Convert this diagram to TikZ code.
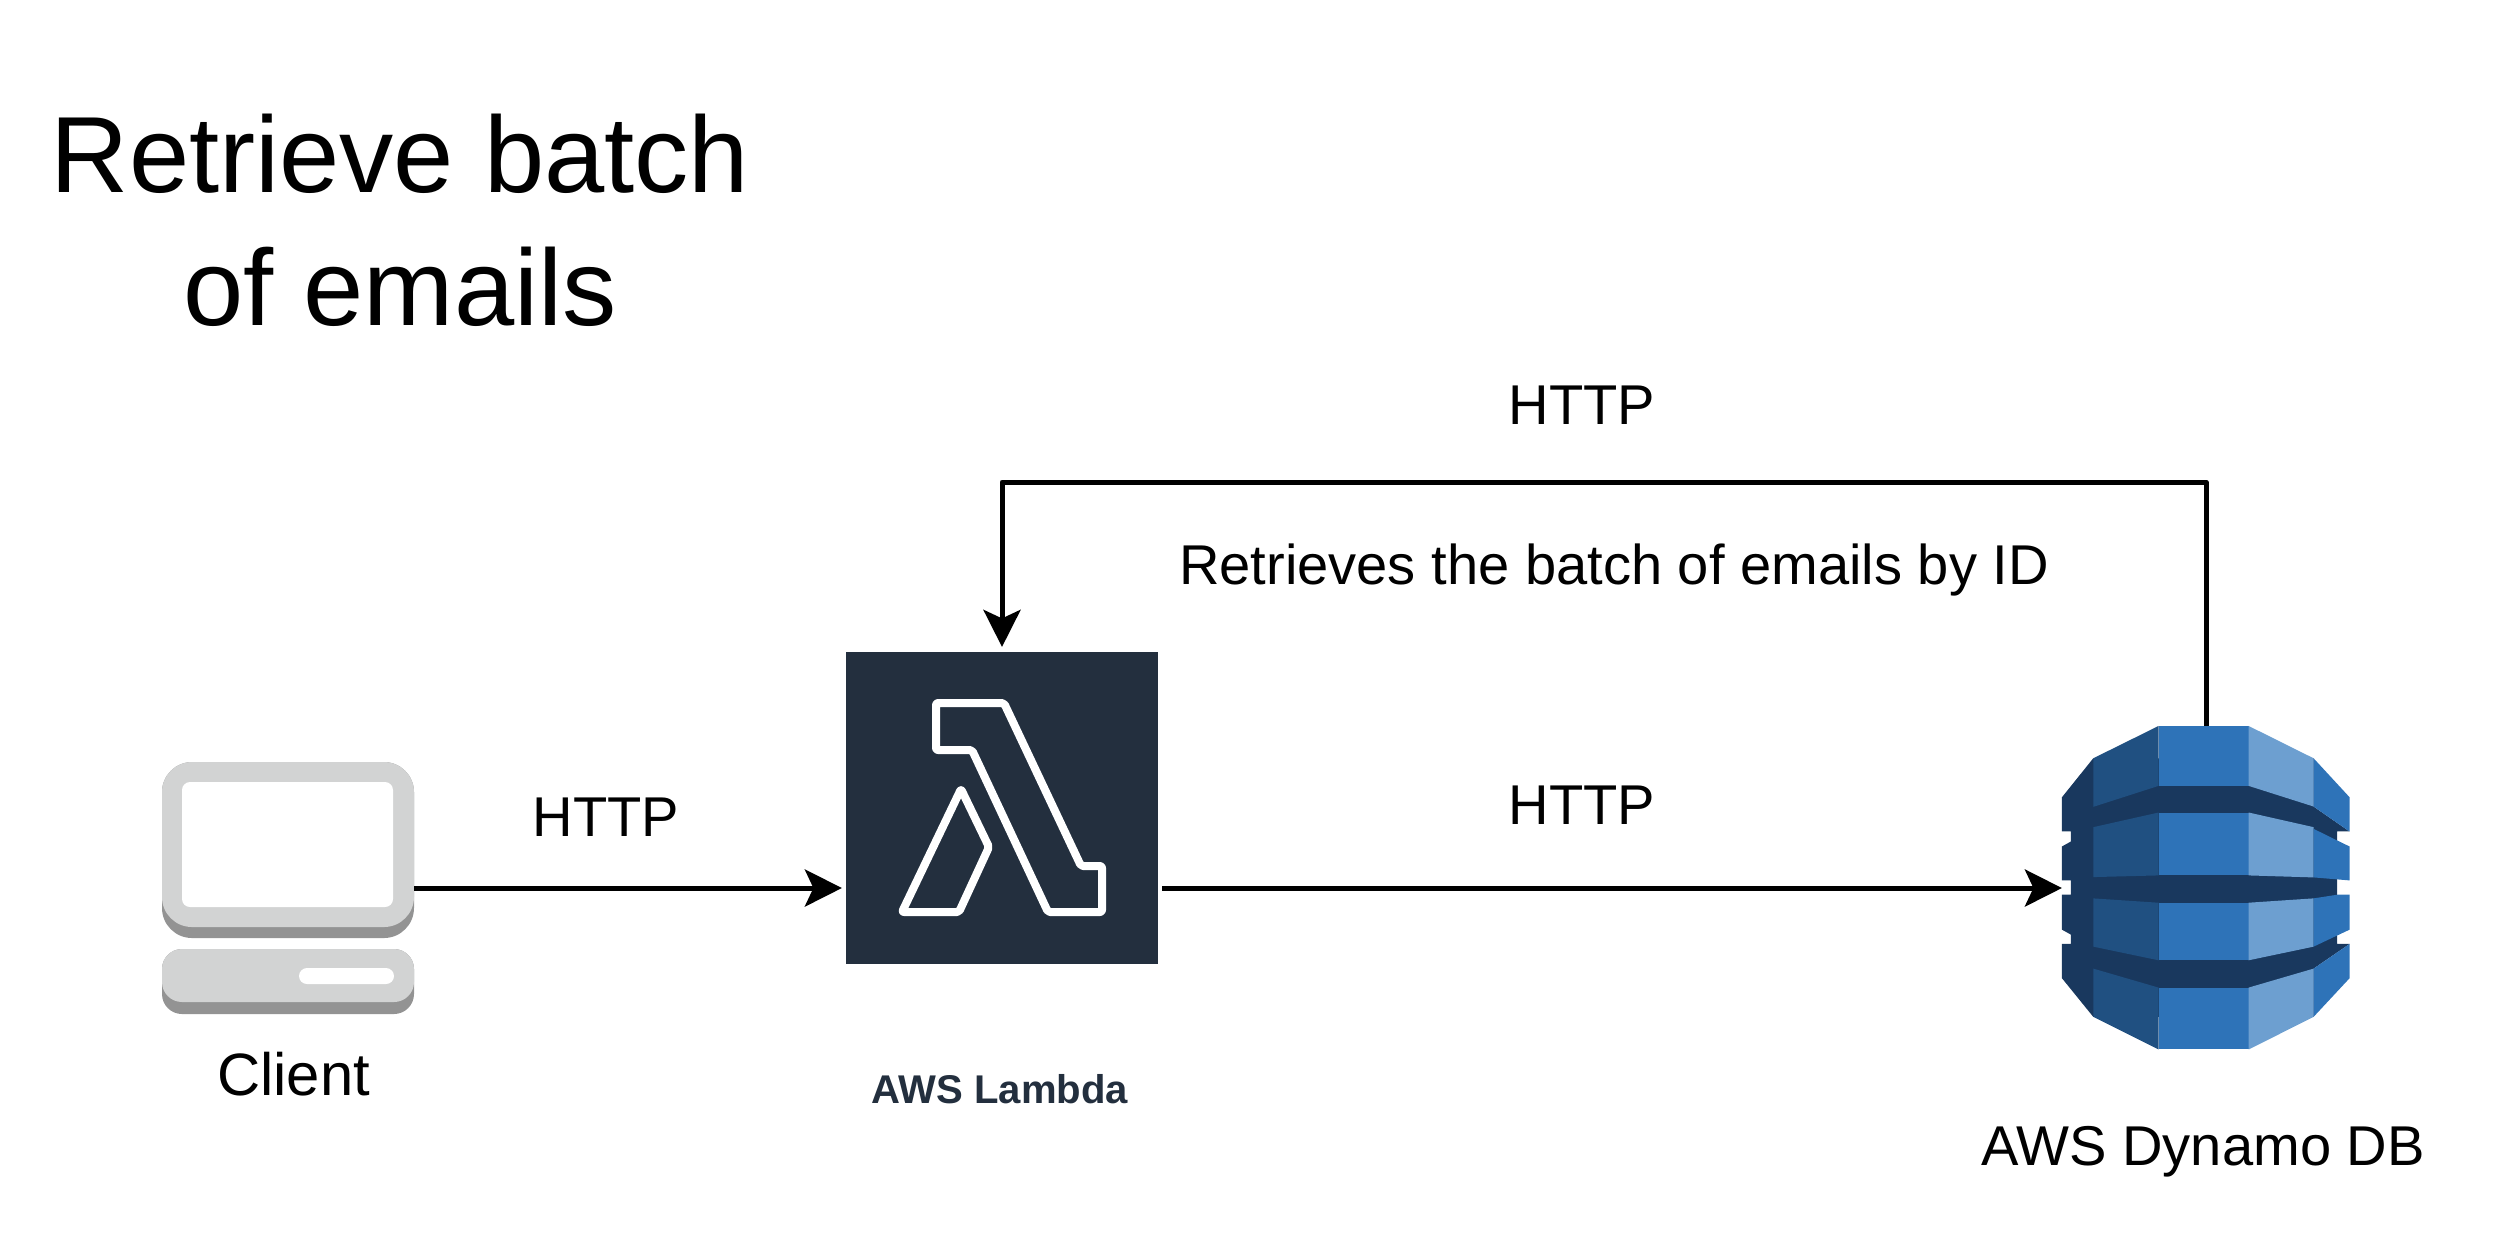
\documentclass[tikz,border=0pt]{standalone}
\usepackage{fontspec}
\setmainfont{Liberation Sans}
\usetikzlibrary{arrows.meta,calc,positioning}
\definecolor{lambdabg}{HTML}{232F3E}
\definecolor{screenlt}{HTML}{D2D3D3}
\definecolor{screendk}{HTML}{939393}
\definecolor{dynamomid}{HTML}{2E73B8}
\definecolor{dynamolft}{HTML}{205081}
\definecolor{dynamolgt}{HTML}{6D9FD0}
\definecolor{dynamodk}{HTML}{19385E}
\tikzset{
  conn/.style={draw=black,line width=0.05cm,-{Stealth[length=0.37cm,width=0.37cm,inset=0.085cm]}},
  icon/.style={inner sep=0pt,outer sep=0pt},
  lbl/.style={anchor=base,font=\fontsize{15.95}{19}\selectfont}
}
\begin{document}
\begin{tikzpicture}[x=0.01cm,y=-0.01cm,line join=round]
\useasboundingbox (0,0) rectangle (2500,1244);
% icon frames
\node[icon,minimum width=2.52cm,minimum height=2.52cm] (client) at (288,888) {};
\node[icon,minimum width=3.12cm,minimum height=3.12cm,fill=lambdabg] (lambda) at (1002,808) {};
\node[icon,minimum width=2.88cm,minimum height=3.24cm] (dynamo) at (2206,888) {};
% client
\fill[screendk,rounded corners=0.3cm] (162,762) rectangle (414,938);
\fill[screenlt,rounded corners=0.3cm] (162,762) rectangle (414,927);
\fill[white,rounded corners=0.08cm] (182,782) rectangle (393,907);
\fill[screendk,rounded corners=0.2cm] (162,949) rectangle (414,1014);
\fill[screenlt,rounded corners=0.2cm] (162,949) rectangle (414,1002);
\fill[white,rounded corners=0.08cm] (299,968) rectangle (394,984);
% lambda
\draw[white,line width=0.08cm,rounded corners=0.02cm] (936,703) -- (1004,703) -- (1081,866) -- (1102,866) -- (1102,912) -- (1048,912) -- (972,750) -- (936,750) -- cycle;
\draw[white,line width=0.08cm,rounded corners=0.02cm] (961,789) -- (989,847) -- (959,912) -- (902,912) -- cycle;
% dynamo
\begin{scope}[shift={(2040,710)},x=0.00333cm,y=-0.00333cm]
\fill[dynamodk] (160,145) -- (66,262) -- (66,365) -- (93,365) -- (93,395) -- (66,410) -- (66,512) -- (93,512) -- (93,555) -- (66,555) -- (66,660) -- (93,675) -- (93,703) -- (66,703) -- (66,806) -- (160,922) -- (822,922) -- (822,777) -- (930,703) -- (893,703) -- (893,365) -- (930,365) -- (822,290) -- (822,145) -- cycle;
\fill[dynamolft] (160,145) -- (356,48) -- (356,228) -- (160,291) -- cycle;
\fill[dynamomid] (356,48) -- (627,48) -- (627,228) -- (356,228) -- cycle;
\fill[dynamolgt] (627,48) -- (822,145) -- (822,290) -- (627,228) -- cycle;
\fill[dynamomid] (822,145) -- (930,262) -- (930,365) -- (822,290) -- cycle;
\fill[dynamolft] (160,352) -- (356,308) -- (356,497) -- (160,502) -- cycle;
\fill[dynamomid] (356,308) -- (627,308) -- (627,497) -- (356,497) -- cycle;
\fill[dynamolgt] (627,308) -- (822,352) -- (822,503) -- (627,497) -- cycle;
\fill[dynamomid] (822,357) -- (893,392) -- (930,410) -- (930,512) -- (822,503) -- cycle;
\fill[dynamolft] (160,566) -- (356,579) -- (356,752) -- (160,711) -- cycle;
\fill[dynamomid] (356,579) -- (627,579) -- (627,752) -- (356,752) -- cycle;
\fill[dynamolgt] (627,579) -- (822,566) -- (822,711) -- (627,752) -- cycle;
\fill[dynamomid] (822,566) -- (893,555) -- (930,555) -- (930,660) -- (822,711) -- cycle;
\fill[dynamolft] (160,777) -- (356,834) -- (356,1020) -- (160,922) -- cycle;
\fill[dynamomid] (356,834) -- (627,834) -- (627,1020) -- (356,1020) -- cycle;
\fill[dynamolgt] (627,834) -- (822,777) -- (822,922) -- (627,1020) -- cycle;
\fill[dynamomid] (822,777) -- (930,703) -- (930,806) -- (822,922) -- cycle;
\end{scope}
% connectors
\coordinate (turn) at (1500,482);
\draw[conn,shorten >=0.04cm] (client.east) -- (client.east -| lambda.west);
\draw[conn,shorten <=0.04cm] (client.east -| lambda.east) -- (dynamo.west);
\draw[conn,shorten >=0.05cm] (dynamo.north) |- (turn) -| (lambda.north);
% labels
\node[anchor=center,align=center,font=\fontsize{30.8}{37.8}\selectfont] (title) at (400,220) {Retrieve batch\\of emails};
\node[lbl,font=\fontsize{17}{20}\selectfont] (clientlbl) at (293.5,1095) {Client};
\node[lbl,font=\bfseries\fontsize{11.4}{13}\selectfont,text=lambdabg] (lambdalbl) at (1000,1103) {AWS Lambda};
\node[lbl] (dynamolbl) at (2203,1165) {AWS Dynamo DB};
\node[lbl] (httpa) at (606,836) {HTTP};
\node[lbl] (httpb) at (1582,824) {HTTP};
\node[lbl] (httpc) at (1582,424) {HTTP};
\node[lbl] (retrieves) at (1614,584) {Retrieves the batch of emails by ID};
\end{tikzpicture}
\end{document}
